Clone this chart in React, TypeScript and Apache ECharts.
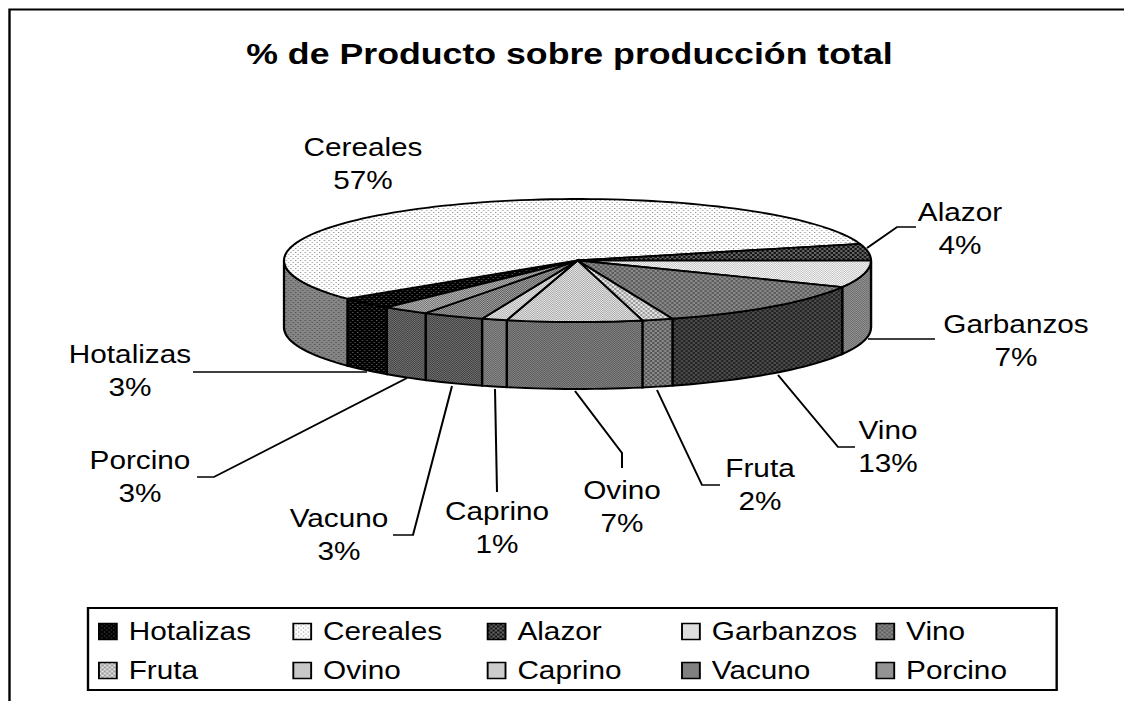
import React, { useEffect, useRef } from "react";
import * as echarts from "echarts";

// Data (shares of total production, in list order of the legend)
const products = ["Hotalizas", "Cereales", "Alazor", "Garbanzos", "Vino", "Fruta", "Ovino", "Caprino", "Vacuno", "Porcino"];
const shares = [3.1, 56.5, 4.4, 7.1, 12.7, 1.7, 7.45, 1.4, 3.4, 2.6];
const titleText = "% de Producto sobre producción total";

// The reference is horizontally stretched; all x below are page pixels, divided by SX.
const SX = 1.19;
const W = 1124 / SX;
const H = 701;
const X = (x: number) => x / SX;
const FONT = '"Liberation Sans", Arial, sans-serif';

const PIE = { cx: 577.5, cy: 260.5, rx: 293.5, ry: 61.5, depth: 67, start: 130.5 };

// label centre [x, y of the text block], leader polyline from label to pie
const labelCentre = [
  [130, 371], [363, 164], [960, 229], [1016, 341], [888, 447], [760, 485], [622, 507], [497, 528], [339, 535], [140, 477],
];
const leaders = [
  [[193, 372], [367, 372]],
  [],
  [[916, 227], [897, 227], [867, 248]],
  [[935, 339], [868, 339]],
  [[855, 447], [838, 447], [778, 375]],
  [[720, 485], [702, 485], [657, 390]],
  [[622, 468], [622, 453], [575, 391]],
  [[497, 492], [495, 389]],
  [[393, 535], [413, 535], [452, 386]],
  [[197, 477], [214, 477], [407, 378]],
];

const DOTS = ["#...", "....", "..#.", "...."];
const CHECK2 = ["##..", "##..", "..##", "..##"];
const CHECK1 = ["#.", ".#"];
const topTiles: [string, string, string[]][] = [
  ["#000000", "#666666", DOTS],
  ["#ffffff", "#8a8a8a", DOTS],
  ["#111111", "#666666", CHECK2],
  ["#ffffff", "#bdbdbd", CHECK1],
  ["#5c5c5c", "#8a8a8a", CHECK2],
  ["#e4e4e4", "#9a9a9a", CHECK2],
  ["#f0f0f0", "#a0a0a0", CHECK1],
  ["#f0f0f0", "#a8a8a8", CHECK1],
  ["#aaaaaa", "#555555", CHECK1],
  ["#c0c0c0", "#666666", CHECK1],
];
const sideTiles: [string, string, string[]][] = [
  ["#000000", "#666666", DOTS],
  ["#858585", "#4c4c4c", DOTS],
  ["#333333", "#666666", CHECK2],
  ["#999999", "#666666", CHECK1],
  ["#222222", "#4c4c4c", CHECK2],
  ["#555555", "#8c8c8c", CHECK2],
  ["#555555", "#8a8a8a", CHECK1],
  ["#5f5f5f", "#8f8f8f", CHECK1],
  ["#383838", "#777777", CHECK1],
  ["#3c3c3c", "#777777", CHECK1],
];

function makePattern([bg, fg, rows]: [string, string, string[]]) {
  const canvas = document.createElement("canvas");
  canvas.width = rows[0].length;
  canvas.height = rows.length;
  const ctx = canvas.getContext("2d")!;
  ctx.fillStyle = bg;
  ctx.fillRect(0, 0, canvas.width, canvas.height);
  ctx.fillStyle = fg;
  rows.forEach((r, y) => r.split("").forEach((c, x) => { if (c === "#") ctx.fillRect(x, y, 1, 1); }));
  return { image: canvas, repeat: "repeat" };
}

function rimPoint(deg: number, drop = 0) {
  const a = (deg * Math.PI) / 180;
  return [X(PIE.cx + PIE.rx * Math.cos(a)), PIE.cy + PIE.ry * Math.sin(a) + drop];
}

function arcPoints(a0: number, a1: number, drop = 0) {
  const n = Math.max(2, Math.ceil((a1 - a0) / 2));
  const pts: number[][] = [];
  for (let i = 0; i <= n; i++) pts.push(rimPoint(a0 + ((a1 - a0) * i) / n, drop));
  return pts;
}

export default function App() {
  const ref = useRef<HTMLDivElement>(null);
  useEffect(() => {
    document.body.style.overflow = "hidden";
    const chart = echarts.init(ref.current!, undefined, { renderer: "svg" });
    const total = shares.reduce((a, b) => a + b, 0);
    const tops = topTiles.map(makePattern);
    const sides = sideTiles.map(makePattern);

    const series = products.map((name, idx) => {
      const before = shares.slice(0, idx).reduce((a, b) => a + b, 0);
      return {
        type: "custom",
        name,
        coordinateSystem: "none",
        silent: true,
        data: [[shares[idx]]],
        renderItem: (_p: any, api: any) => {
          const value = api.value(0) as number;
          const a0 = PIE.start + (before / total) * 360;
          const a1 = a0 + (value / total) * 360;
          const children: any[] = [];
          [[0, 180], [360, 540]].forEach(([lo, hi]) => {
            const s = Math.max(a0, lo);
            const e = Math.min(a1, hi);
            if (e > s) {
              children.push({
                type: "polygon",
                shape: { points: [...arcPoints(s, e), ...arcPoints(s, e, PIE.depth).reverse()] },
                style: { fill: sides[idx], stroke: "#000", lineWidth: 1.9 },
              });
            }
          });
          children.push({
            type: "polygon",
            shape: { points: [[X(PIE.cx), PIE.cy], ...arcPoints(a0, a1)] },
            style: { fill: tops[idx], stroke: "#000", lineWidth: 1.8, lineJoin: "round" },
          });
          if (leaders[idx].length) {
            children.push({
              type: "polyline",
              shape: { points: leaders[idx].map(([x, y]) => [X(x), y]) },
              style: { fill: "none", stroke: "#000", lineWidth: 1.7 },
            });
          }
          const [lx, ly] = labelCentre[idx];
          children.push({
            type: "text",
            style: {
              text: `${name}\n${Math.round(value)}%`,
              x: X(lx),
              y: ly,
              align: "center",
              verticalAlign: "middle",
              lineHeight: 33,
              font: `25px ${FONT}`,
              fill: "#000",
            },
          });
          return { type: "group", children };
        },
      };
    });

    chart.setOption({
      animation: false,
      backgroundColor: "#fff",
      title: {
        text: titleText,
        left: X(563.5),
        top: 34,
        textAlign: "center",
        textStyle: { fontFamily: FONT, fontWeight: "bold", fontSize: 30, color: "#000" },
      },
      legend: {
        left: X(88),
        top: 608,
        width: 805,
        padding: [11, 3, 7, X(10)],
        itemGap: 14,
        itemWidth: 15,
        itemHeight: 16,
        borderColor: "#000",
        borderWidth: 2,
        selectedMode: false,
        data: products.map((name, i) => ({
          name,
          icon: "rect",
          itemStyle: { color: tops[i], borderColor: "#000", borderWidth: 1.6 },
        })),
        formatter: (n: string) => `{t|${n}}`,
        textStyle: {
          rich: {
            t: { width: X(193.4) - 15 - 5 - 14 - 5, padding: [0, 0, 0, 5], fontFamily: FONT, fontSize: 25, lineHeight: 20, color: "#000" },
          },
        },
      },
      graphic: [
        {
          type: "polyline",
          shape: { points: [[X(9.5), H], [X(9.5), 9.5], [W, 9.5]] },
          style: { fill: "none", stroke: "#000", lineWidth: 2 },
        },
      ],
      series,
    });
    return () => chart.dispose();
  }, []);
  return (
    <div
      ref={ref}
      style={{
        position: "absolute",
        left: 0,
        top: 0,
        width: W,
        height: H,
        transform: `scaleX(${SX})`,
        transformOrigin: "0 0",
      }}
    />
  );
}
